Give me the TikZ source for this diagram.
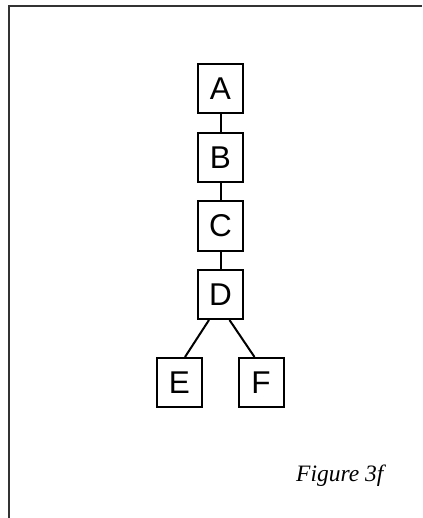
\documentclass[tikz,border=0pt]{standalone}
\usepackage{fontspec}
\setmainfont{Liberation Serif}
\newfontfamily\boxfont{Liberation Sans}
\usetikzlibrary{calc}
\begin{document}
\begin{tikzpicture}[x=1pt,y=-1pt,
  treebox/.style={draw, line width=2pt, minimum width=45pt, minimum height=49pt,
    inner sep=0pt, font=\boxfont\fontsize{31.5}{31.5}\selectfont},
  link/.style={line width=2pt},
  frame/.style={line width=2pt, draw=black!80}]
  \useasboundingbox (0,0) rectangle (422,518);
  % open frame: top and left edges only
  \coordinate (fTL) at (9,6.5);
  \coordinate (fTR) at (422,6.5);
  \coordinate (fBL) at (9,518);
  \draw[frame] (fBL) -- (fTL) -- (fTR);
  % chain of nodes
  \node[treebox] (A) at (220.5,88.5) {A};
  \node[treebox] (B) at (220.5,157.2) {B};
  \node[treebox] (C) at (220.5,226) {C};
  \node[treebox] (D) at (220.5,294.5) {D};
  \node[treebox] (E) at (179.5,382.5) {E};
  \node[treebox] (F) at (261,382.5) {F};
  \draw[link] (A) -- (B);
  \draw[link] (B) -- (C);
  \draw[link] (C) -- (D);
  \draw[link] ($(D.south)+(-11.5,0)$) -- ($(E.north)+(5.5,0)$);
  \draw[link] ($(D.south)+(9,0)$) -- ($(F.north)+(-6.5,0)$);
  % caption
  \node[anchor=base west, inner sep=0pt, font=\itshape\fontsize{23.5}{23.5}\selectfont]
    (cap) at (296,481.5) {Figure 3f};
\end{tikzpicture}
\end{document}
